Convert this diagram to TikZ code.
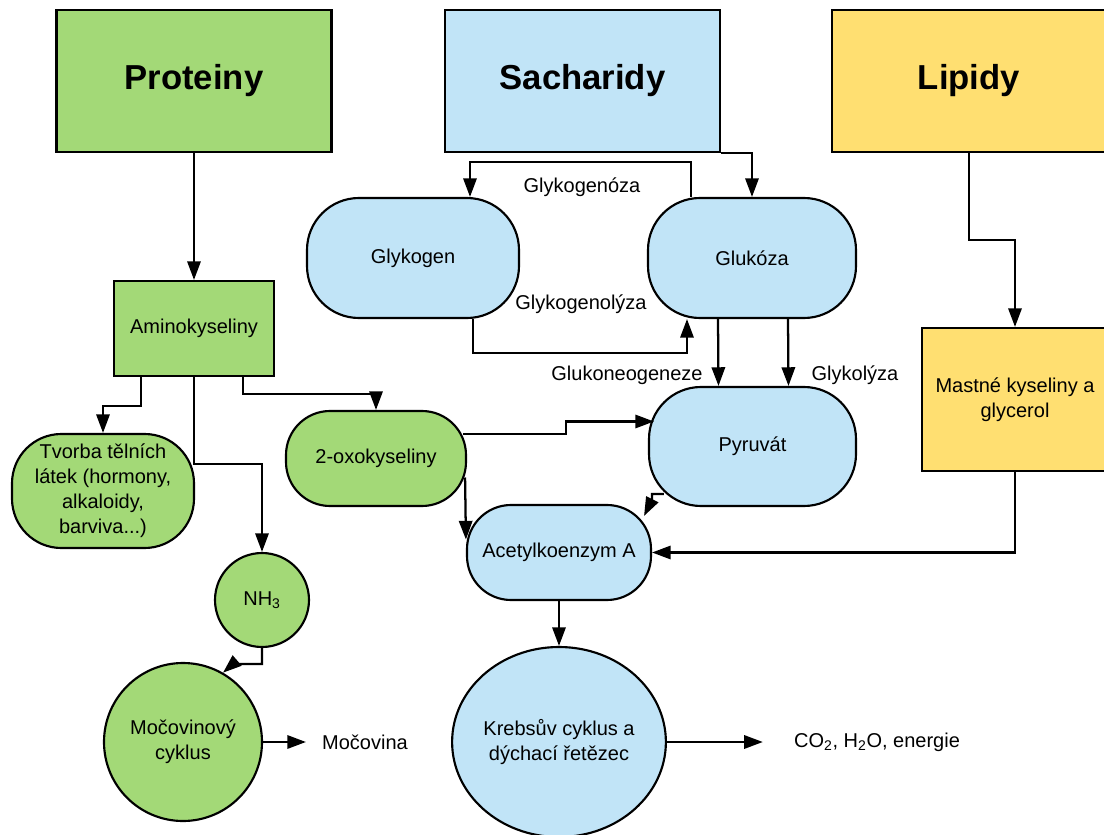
\documentclass[tikz,border=0pt]{standalone}
\usepackage{fontspec}
\setmainfont{Liberation Sans}
\usepackage{xcolor}
\usepackage{tikz}
\usetikzlibrary{arrows.meta,shapes.geometric,positioning}

\definecolor{protgreen}{HTML}{A3D977}
\definecolor{sachblue}{HTML}{C1E4F7}
\definecolor{lipyellow}{HTML}{FFDF71}

\begin{document}
\begin{tikzpicture}[x=0.75pt,y=0.75pt,yscale=-1,xscale=1,
  every node/.style={font=\fontsize{15}{18.75}\selectfont,inner sep=0pt,align=center},
  title/.style={draw,line width=1.6pt,font=\fontsize{26}{31}\selectfont\bfseries},
  box/.style={draw,line width=1.6pt},
  stadium/.style={draw,line width=1.6pt,rounded corners=#1},
  arr/.style={line width=1.7pt,-{Triangle[length=14pt,width=10pt]}}]
  \useasboundingbox (0,0) rectangle (1104,835);

  %Shape: Rectangle [titles]
  \node [title,fill=protgreen,minimum width=206.25pt,minimum height=106.5pt] (prot) at (194,81) {Proteiny};
  \node [title,fill=sachblue,minimum width=206.25pt,minimum height=106.5pt] (sach) at (582.5,81) {Sacharidy};
  \node [title,fill=lipyellow,minimum width=205.5pt,minimum height=106.5pt] (lip) at (969,81) {Lipidy};

  %Shape: Rectangle
  \node [box,fill=protgreen,minimum width=120pt,minimum height=71.25pt] (amino) at (194,328.5) {Aminokyseliny};
  \node [box,fill=lipyellow,minimum width=139.5pt,minimum height=107.25pt] (mastne) at (1015,399.5) {Mastné kyseliny a\\glycerol};

  %Shape: Terminator
  \node [stadium=39pt,fill=sachblue,minimum width=159pt,minimum height=90pt] (glykogen) at (413,258) {Glykogen};
  \node [stadium=39pt,fill=sachblue,minimum width=156pt,minimum height=90pt] (gluk) at (752,258) {Glukóza};
  \node [stadium=39pt,fill=sachblue,minimum width=155.25pt,minimum height=89.25pt] (pyr) at (752.5,446.5) {Pyruvát};
  \node [stadium=37pt,fill=protgreen,minimum width=136.5pt,minimum height=85.5pt] (tvorba) at (103,491) {Tvorba tělních\\látek (hormony,\\alkaloidy,\\barviva...)};
  \node [stadium=33pt,fill=protgreen,minimum width=135pt,minimum height=71.25pt] (oxo) at (376,458.5) {2-oxokyseliny};
  \node [stadium=33pt,fill=sachblue,minimum width=138pt,minimum height=71.25pt] (acetyl) at (559,552.5) {Acetylkoenzym A};

  %Shape: Circle
  \node [box,circle,fill=protgreen,minimum size=70.5pt] (nh3) at (262,600) {NH\textsubscript{3}};
  \node [box,circle,fill=protgreen,minimum size=118.5pt] (moc) at (183,742) {Močovinový\\cyklus};
  \node [box,ellipse,fill=sachblue,minimum width=155.25pt,minimum height=142.5pt] (krebs) at (559,742) {Krebsův cyklus a\\dýchací řetězec};

  % Text Node
  \node (mocovina) at (365,742) {Močovina};
  % Text Node
  \node (co2) at (877,742) {CO\textsubscript{2}, H\textsubscript{2}O, energie};
  % Text Node
  \node (lgenoza) at (582,187) {Glykogenóza};
  % Text Node
  \node (lgenolyza) at (581,304) {Glykogenolýza};
  % Text Node
  \node (lneo) at (627,375) {Glukoneogeneze};
  % Text Node
  \node (lglyk) at (855,375) {Glykolýza};

  %Connectors
  \draw [arr] (prot.south) -- (amino.north);
  \draw [arr] (sach.south east) -| (gluk.north);
  \draw [arr] ([shift={(-61,0)}]gluk.north) -- ++(0,-35) -| ([shift={(57,0)}]glykogen.north);
  \draw [arr] ([shift={(60,0)}]glykogen.south) -- ++(0,34) -| ([shift={(-65,0)}]gluk.south);
  \draw [arr] ([shift={(-34,0)}]gluk.south) -- ([shift={(-34,0)}]pyr.north);
  \draw [arr] ([shift={(36,0)}]gluk.south) -- ([shift={(36,0)}]pyr.north);
  \draw [arr] (lip.south) -- ++(0,87) -| (mastne.north);
  \draw [arr] (mastne.south) |- (acetyl.east);
  \draw [arr] ([shift={(-53,0)}]amino.south) -- ++(0,29) -| (tvorba.north);
  \draw [arr] (amino.south) -- ++(0,87) -| (nh3.north);
  \draw [arr] ([shift={(49,0)}]amino.south) -- ++(0,17) -| (oxo.north);
  \draw [arr] ([shift={(-4,0)}]oxo.15) -- ++(103,0) |- ([shift={(6,-25)}]pyr.west);
  \draw [arr] ([shift={(-2,19)}]oxo.east) -- ([shift={(0,-13)}]acetyl.west);
  \draw [arr] ([shift={(16,-13)}]pyr.south west) -- ++(-12,0) -- ++(0,6) -- ([shift={(-8,12)}]acetyl.north east);
  \draw [arr] (acetyl.south) -- (krebs.north);
  \draw [arr] (krebs.east) -- ([shift={(-31,0)}]co2.west);
  \draw [arr] (nh3.south) -- ++(0,16) -- ++(-29,0) -- (moc.60);
  \draw [arr] (moc.east) -- ([shift={(-16,0)}]mocovina.west);
\end{tikzpicture}
\end{document}
